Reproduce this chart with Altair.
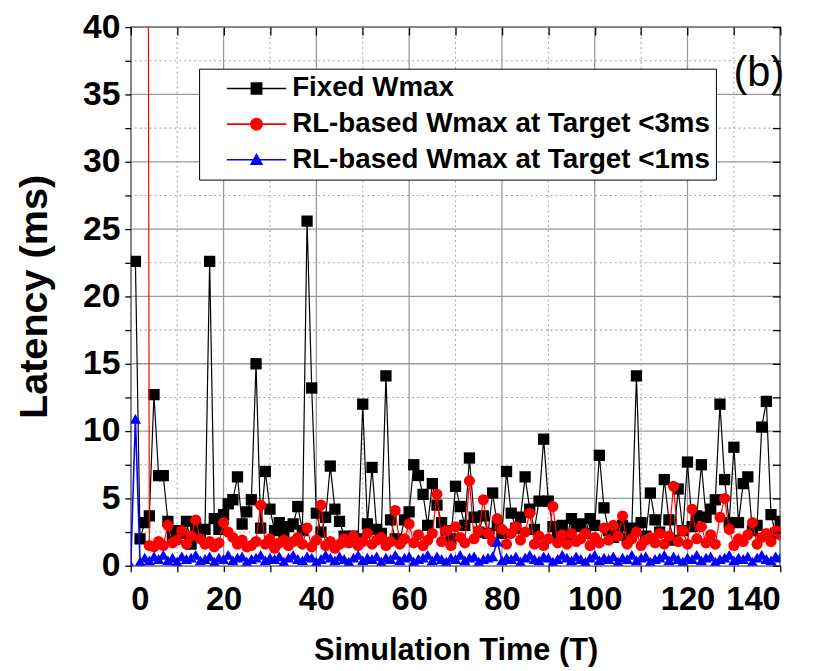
import altair as alt
import pandas as pd

# ---------------- data ----------------
names = ["Fixed Wmax", "RL-based Wmax at Target <3ms", "RL-based Wmax at Target <1ms"]
colors = ["#000000", "#ff0000", "#0000ff"]

black_x = list(range(1, 141))
black_y = [22.6, 2.0, 3.2, 3.7, 12.7, 6.7, 6.7, 3.3, 2.2, 2.6,
           2.4, 3.3, 1.6, 2.9, 2.4, 2.7, 22.6, 3.5, 2.7, 3.8,
           4.6, 4.9, 6.6, 3.1, 4.0, 4.9, 15.0, 2.8, 7.0, 4.2,
           2.6, 3.2, 2.5, 2.9, 3.1, 4.4, 2.6, 25.6, 13.2, 3.9,
           2.5, 3.6, 7.4, 4.2, 3.3, 2.2, 1.8, 2.2, 2.0, 12.0,
           3.1, 7.3, 2.7, 2.4, 14.1, 3.4, 2.0, 1.9, 3.4, 4.0,
           7.5, 6.7, 5.3, 3.0, 6.1, 4.5, 3.2, 2.6, 2.0, 5.9,
           4.4, 3.0, 8.0, 3.6, 2.5, 3.7, 2.4, 5.4, 3.0, 2.4,
           7.0, 3.9, 2.8, 3.6, 6.6, 4.2, 2.7, 4.8, 9.4, 4.8,
           2.9, 2.4, 3.0, 2.2, 3.5, 2.9, 3.1, 2.4, 3.5, 3.0,
           8.2, 4.3, 2.6, 2.1, 2.3, 3.0, 2.0, 2.8, 14.1, 3.2,
           2.2, 5.4, 3.4, 2.5, 6.4, 3.4, 1.9, 5.7, 2.6, 7.7,
           2.9, 3.7, 7.5, 3.6, 4.2, 4.9, 12.0, 6.4, 3.2, 8.8,
           3.2, 6.1, 6.6, 2.6, 3.0, 10.3, 12.2, 3.8, 2.4, 3.3]

red_x = [3.7] + list(range(4, 141))
red_y = [60.0, 1.5,
         1.4, 1.8, 1.5, 3.0, 1.7, 1.9, 2.6, 1.6, 2.2, 3.4,
         2.0, 1.6, 1.8, 1.4, 1.7, 3.2, 2.5, 2.1, 1.6, 1.9,
         1.4, 1.5, 1.8, 4.5, 1.6, 2.0, 1.3, 1.7, 1.9, 1.5,
         1.8, 2.1, 1.6, 2.8, 1.4, 1.9, 4.5, 1.5, 1.8, 1.3,
         1.6, 2.0, 1.7, 2.2, 1.5, 1.8, 2.4, 1.6, 1.9, 2.1,
         1.5, 1.8, 4.1, 1.6, 2.0, 3.1, 1.7, 2.3, 1.5, 1.9,
         2.4, 5.3, 1.8, 2.6, 1.5, 2.9, 2.1, 1.7, 6.3, 2.0,
         2.6, 4.9, 2.4, 1.8, 3.5, 2.7, 1.6, 2.4, 2.9, 1.9,
         2.5, 3.9, 1.6, 2.2, 1.5, 2.0, 4.4, 1.7, 2.3, 1.6,
         2.4, 1.8, 2.0, 2.4, 1.5, 2.1, 1.7, 2.8, 1.9, 3.0,
         2.2, 3.7, 1.6, 2.0, 2.5, 1.5, 1.9, 2.1, 1.7, 2.4,
         1.6, 2.2, 5.9, 1.8, 2.6, 1.6, 4.2, 2.0, 2.9, 1.7,
         2.3, 1.6, 3.6, 5.0, 2.7, 1.5, 2.0, 1.8, 2.3, 3.2,
         1.6, 2.1, 2.4, 1.8, 2.6, 2.3]

blue_x = list(range(0, 141))
blue_y = [0.05, 10.9, 0.3, 0.6, 0.4, 0.7, 0.5, 0.8, 0.4, 0.6,
          0.3, 0.7, 0.5, 0.6, 0.8, 0.4, 0.5, 0.7, 0.3, 0.6,
          0.5, 0.8, 0.4, 0.6, 0.7, 0.3, 0.5, 0.6, 0.8, 0.4,
          0.6, 0.5, 0.7, 0.3, 0.6, 0.8, 0.5, 0.4, 0.7, 0.6,
          0.3, 0.5, 0.8, 0.6, 0.4, 0.7, 0.5, 0.3, 0.6, 0.8,
          0.4, 0.6, 0.5, 0.7, 0.3, 0.6, 0.5, 0.8, 0.4, 0.6,
          0.7, 0.3, 0.5, 0.6, 0.8, 0.4, 0.7, 0.5, 0.3, 0.6,
          0.5, 0.8, 0.4, 0.6, 0.7, 0.3, 0.5, 0.6, 0.7, 1.8,
          0.4, 0.6, 0.5, 0.7, 0.3, 0.6, 0.8, 0.5, 0.4, 0.7,
          0.6, 0.3, 0.5, 0.8, 0.6, 0.4, 0.7, 0.5, 0.3, 0.6,
          0.8, 0.4, 0.6, 0.5, 0.7, 0.3, 0.6, 0.5, 0.8, 0.4,
          0.6, 0.7, 0.3, 0.5, 0.6, 0.8, 0.4, 0.7, 0.5, 0.3,
          0.6, 0.5, 0.8, 0.4, 0.6, 0.7, 0.3, 0.5, 0.6, 0.8,
          0.4, 0.6, 0.5, 0.7, 0.3, 0.6, 0.8, 0.5, 0.4, 0.7,
          0.6]

y_major = [0, 5, 10, 15, 20, 25, 30, 35, 40]
y_minor = [2.5, 7.5, 12.5, 17.5, 22.5, 27.5, 32.5, 37.5]
x_major = [0, 20, 40, 60, 80, 100, 120, 140]
x_minor = [10, 30, 50, 70, 90, 110, 130]
y_ticks = sorted(y_major + y_minor)
x_ticks = sorted(x_major + x_minor)

# ---------------- layout ----------------
W, H = 656, 544
FONT = "Liberation Sans"

xs = alt.Scale(domain=[0, 140], nice=False, zero=False)
ys = alt.Scale(domain=[0, 40], nice=False, zero=False)

# legend symbols: a line with the marker on it (symbol box 80 px, unit = 40 px)
line_part = "M-0.45,-0.02 L1.05,-0.02 L1.05,0.02 L-0.45,0.02 Z "
sym_square = line_part + "M0.15,-0.16 L0.45,-0.16 L0.45,0.16 L0.15,0.16 Z"
sym_circle = line_part + "M0.46,0 A0.16,0.16 0 1,1 0.14,0 A0.16,0.16 0 1,1 0.46,0 Z"
sym_tri = line_part + "M0.3,-0.17 L0.47,0.13 L0.13,0.13 Z"


def series(xv, yv, color, shape, size, lw):
    df = pd.DataFrame({"x": xv, "y": yv})
    enc = dict(x=alt.X("x:Q", scale=xs, axis=None), y=alt.Y("y:Q", scale=ys, axis=None))
    ln = alt.Chart(df).mark_line(color=color, strokeWidth=lw, clip=True).encode(**enc)
    pt = alt.Chart(df).mark_point(shape=shape, filled=True, color=color, size=size,
                                  opacity=1, clip=True).encode(**enc)
    return [ln, pt]


grid_major_y = alt.Chart(pd.DataFrame({"y": y_major})).mark_rule(
    color="#9a9a9a", strokeWidth=1.3).encode(
    y=alt.Y("y:Q", scale=ys, axis=alt.Axis(
        orient="left", values=y_ticks,
        labelExpr="datum.value % 5 == 0 ? datum.label : ''",
        tickSize=6, labelPadding=5, domain=False, grid=False, zindex=1,
        labelFontSize=34, title="Latency (ms)", titleFontSize=40,
        titleX=-97, titleY=H / 2, titleAngle=270, titleAlign="center",
        titleBaseline="middle")))

grid_major_x = alt.Chart(pd.DataFrame({"x": x_major})).mark_rule(
    color="#9a9a9a", strokeWidth=1.3).encode(
    x=alt.X("x:Q", scale=xs, axis=alt.Axis(
        orient="bottom", values=x_ticks,
        labelExpr="datum.value % 20 == 0 ? datum.label : ''",
        tickSize=6, labelPadding=12, domain=False, grid=False, zindex=1,
        labelFontSize=33, title="Simulation Time (T)", titleFontSize=31,
        titleX=W / 2, titleY=86, titleAlign="center", titleBaseline="middle")))

grid_minor_y = alt.Chart(pd.DataFrame({"y": y_minor})).mark_rule(
    color="#a8a8a8", strokeWidth=1.1, strokeDash=[2, 3]).encode(
    y=alt.Y("y:Q", scale=ys, axis=alt.Axis(
        orient="left", offset=-W, values=y_ticks, labels=False, domain=False,
        grid=False, tickSize=8, zindex=1, title=None)))

grid_minor_x = alt.Chart(pd.DataFrame({"x": x_minor})).mark_rule(
    color="#a8a8a8", strokeWidth=1.1, strokeDash=[2, 3]).encode(
    x=alt.X("x:Q", scale=xs, axis=alt.Axis(
        orient="bottom", offset=-H, values=x_ticks, labels=False, domain=False,
        grid=False, tickSize=8, zindex=1, title=None)))

legend_params = dict(
    title=None, orient="none", legendX=69, legendY=42, direction="vertical",
    padding=6, strokeColor="black", fillColor="white", cornerRadius=0,
    labelFont=FONT, labelFontSize=28, labelFontWeight="bold", labelColor="black",
    labelLimit=0, labelOffset=8, symbolSize=6400, symbolOpacity=1,
    symbolStrokeWidth=0, rowPadding=8, clipHeight=28)

legend_layer = alt.Chart(pd.DataFrame({"series": names})).mark_point(
    filled=True, opacity=0).encode(
    color=alt.Color("series:N", scale=alt.Scale(domain=names, range=colors),
                    legend=alt.Legend(**legend_params)),
    shape=alt.Shape("series:N", scale=alt.Scale(domain=names,
                                                range=[sym_square, sym_circle, sym_tri]),
                    legend=alt.Legend(**legend_params)))

panel_label = alt.Chart(pd.DataFrame({"t": ["(b)"]})).mark_text(
    font=FONT, fontSize=42, fontWeight="normal", align="right", baseline="middle",
    color="black").encode(text="t:N", x=alt.value(W + 4), y=alt.value(46))

layers = [grid_minor_y, grid_minor_x, grid_major_y, grid_major_x]
layers += series(black_x, black_y, "#000000", "square", 130, 1.2)
layers += series(red_x, red_y, "#ff0000", "circle", 125, 1.2)
layers += series(blue_x, blue_y, "#0000ff", "triangle-up", 130, 1.6)
layers += [legend_layer, panel_label]

chart = alt.layer(*layers).resolve_axis(
    x="independent", y="independent"
).properties(
    width=W, height=H,
    padding={"left": 124, "top": 16, "right": 28, "bottom": 103},
    autosize=alt.AutoSizeParams(type="none"),
).configure_view(
    stroke="black", strokeWidth=1.5
).configure_axis(
    labelFont=FONT, titleFont=FONT, labelFontWeight="bold", titleFontWeight="bold",
    labelColor="black", titleColor="black", tickColor="black", domainColor="black",
    tickWidth=1.3
)

chart.save("out.html", embed_options={"renderer": "svg", "actions": False})
